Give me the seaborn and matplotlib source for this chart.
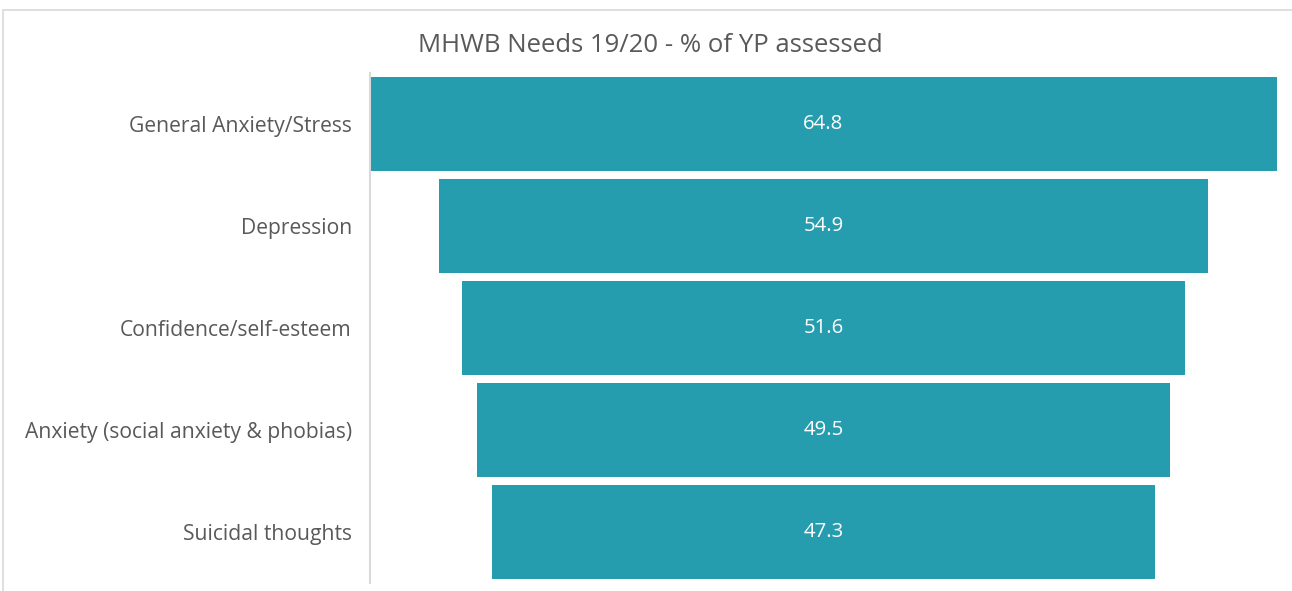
import matplotlib
matplotlib.use("Agg")
import matplotlib.pyplot as plt
import matplotlib.patches as mpatches
import pandas as pd
import seaborn as sns

categories = [
    "General Anxiety/Stress",
    "Depression",
    "Confidence/self-esteem",
    "Anxiety (social anxiety & phobias)",
    "Suicidal thoughts",
]
values = [64.8, 54.9, 51.6, 49.5, 47.3]

TITLE = "MHWB Needs 19/20 - % of YP assessed"
BAR_COLOR = "#259DAE"
TEXT_GRAY = "#595959"
FRAME_GRAY = "#D9D9D9"

sns.set_theme(style="white")
plt.rcParams["font.family"] = ["Open Sans", "DejaVu Sans"]

df = pd.DataFrame({"need": categories, "pct": values})

fig = plt.figure(figsize=(12.92, 5.91), dpi=100)
ax = fig.add_axes([370 / 1292, 1 - 583 / 591, (1277 - 370) / 1292, (583 - 73) / 591])

sns.barplot(data=df, x="pct", y="need", color=BAR_COLOR, saturation=1,
            width=0.92, orient="h", ax=ax)

# funnel: centre each bar on zero
for patch, v in zip(ax.patches, df["pct"]):
    patch.set_x(-v / 2)
    patch.set_edgecolor("none")
    cy = patch.get_y() + patch.get_height() / 2
    ax.text(0, cy, f"{v:.1f}", ha="center", va="center", color="white", fontsize=14.7)

half = max(values) / 2
ax.set_xlim(-half, half)
ax.set_ylim(len(categories) - 0.5, -0.5)
ax.set_xlabel("")
ax.set_ylabel("")
ax.set_xticks([])
ax.tick_params(axis="y", length=0, pad=13, labelsize=15.2, labelcolor=TEXT_GRAY)

for side in ["top", "right", "bottom"]:
    ax.spines[side].set_visible(False)
ax.spines["left"].set_color(FRAME_GRAY)
ax.spines["left"].set_linewidth(1.5)

fig.text(650 / 1292, 1 - 45 / 591, TITLE, ha="center", va="center",
         fontsize=18.5, color=TEXT_GRAY)

# outer chart frame (only top/left visible in the crop)
frame = mpatches.Rectangle((3 / 1292, -0.1), 1.2, 1 - 10 / 591 + 0.1,
                           transform=fig.transFigure, fill=False,
                           edgecolor=FRAME_GRAY, linewidth=1.2)
fig.add_artist(frame)

fig.savefig("out.png", dpi=100)
